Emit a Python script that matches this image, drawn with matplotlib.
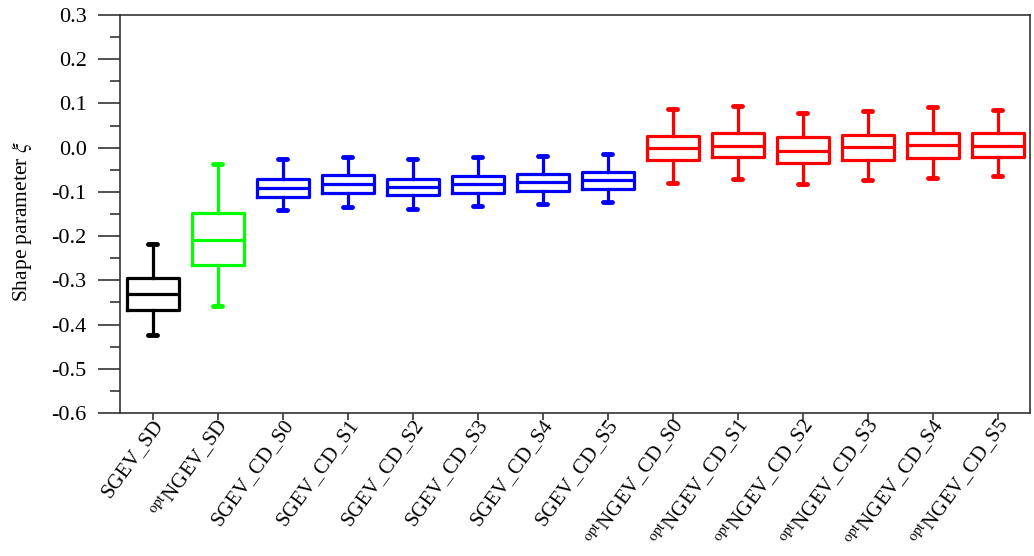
import matplotlib
matplotlib.use("Agg")
import matplotlib.pyplot as plt
from matplotlib.ticker import MultipleLocator

plt.rcParams['font.family'] = ['Liberation Serif', 'DejaVu Serif']
plt.rcParams['mathtext.fontset'] = 'stix'

categories = ["SGEV_SD", r"$^{\mathrm{opt}}$NGEV_SD",
              "SGEV_CD_S0", "SGEV_CD_S1", "SGEV_CD_S2", "SGEV_CD_S3", "SGEV_CD_S4", "SGEV_CD_S5",
              r"$^{\mathrm{opt}}$NGEV_CD_S0", r"$^{\mathrm{opt}}$NGEV_CD_S1", r"$^{\mathrm{opt}}$NGEV_CD_S2",
              r"$^{\mathrm{opt}}$NGEV_CD_S3", r"$^{\mathrm{opt}}$NGEV_CD_S4", r"$^{\mathrm{opt}}$NGEV_CD_S5"]
whisker_low = [-0.424, -0.358, -0.141, -0.134, -0.139, -0.132, -0.127, -0.123,
               -0.081, -0.071, -0.083, -0.073, -0.069, -0.064]
q1 = [-0.367, -0.265, -0.112, -0.102, -0.107, -0.102, -0.098, -0.093,
      -0.029, -0.020, -0.034, -0.028, -0.024, -0.022]
median = [-0.331, -0.209, -0.091, -0.082, -0.089, -0.082, -0.078, -0.073,
          -0.001, 0.004, -0.007, 0.001, 0.006, 0.004]
q3 = [-0.295, -0.148, -0.071, -0.062, -0.070, -0.064, -0.060, -0.055,
      0.027, 0.033, 0.023, 0.029, 0.034, 0.033]
whisker_high = [-0.218, -0.037, -0.026, -0.021, -0.026, -0.021, -0.019, -0.014,
                0.088, 0.094, 0.078, 0.084, 0.093, 0.085]
colors = ["black", "#00ff00"] + ["#0000ff"] * 6 + ["#ff0000"] * 6

fig = plt.figure(figsize=(10.34, 5.56), dpi=100)
ax = fig.add_axes([120/1034, 1 - 413/556, 910/1034, 398/556])

for i in range(len(categories)):
    st = [dict(med=median[i], q1=q1[i], q3=q3[i], whislo=whisker_low[i], whishi=whisker_high[i], fliers=[])]
    c = colors[i]
    lw = 2.3
    ax.bxp(st, positions=[i + 1], widths=0.8, capwidths=0.13, showfliers=False,
           boxprops=dict(color=c, linewidth=lw),
           medianprops=dict(color=c, linewidth=lw),
           whiskerprops=dict(color=c, linewidth=lw),
           capprops=dict(color=c, linewidth=lw + 1.2, solid_capstyle='round'))

ax.set_xlim(0.5, 14.5)
ax.set_ylim(-0.6, 0.3)
ax.set_xticks(range(1, 15))
ax.set_xticklabels([])
for i, lab in enumerate(categories):
    ax.annotate(lab, xy=(i + 1, 0), xycoords=('data', 'axes fraction'),
                xytext=(5, -6), textcoords='offset points',
                rotation=54, ha='right', va='center', rotation_mode='anchor',
                fontsize=15, annotation_clip=False)
ax.yaxis.set_major_locator(MultipleLocator(0.1))
ax.yaxis.set_minor_locator(MultipleLocator(0.05))
ax.set_yticklabels([f"{v:.1f}" for v in ax.get_yticks()])
ax.tick_params(axis='y', which='major', length=16, width=1.2, direction='out', labelsize=16, pad=8, color='#333333')
ax.tick_params(axis='y', which='minor', length=7, width=1.2, direction='out', color='#333333')
ax.tick_params(axis='x', which='major', length=5, width=1.2, direction='out', color='#333333')
for s in ax.spines.values():
    s.set_linewidth(1.2)
    s.set_color('#333333')
ax.set_ylabel(r"Shape parameter $\xi$", fontsize=15.5)
ax.yaxis.set_label_coords(-0.0945, 0.48)

fig.savefig("out.png", dpi=100)
